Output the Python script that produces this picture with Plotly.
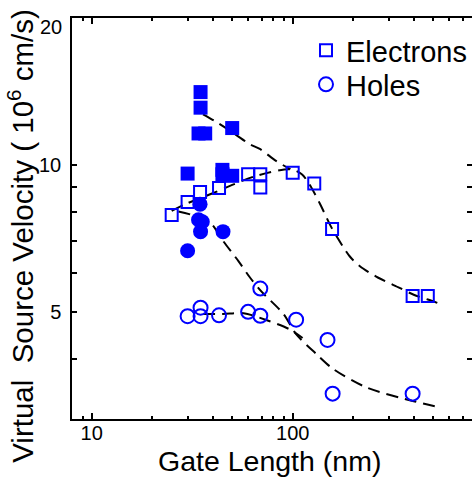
import plotly.graph_objects as go

# ---- data ----
elec_open_x = [25, 30, 34.6, 43, 60, 69, 69, 100, 128, 157, 395, 470]
elec_open_y = [7.9, 8.4, 8.8, 8.97, 9.57, 9.57, 8.99, 9.64, 9.16, 7.39, 5.39, 5.39]

elec_fill_x = [34.8, 34.8, 34.0, 36.7, 50, 30, 44.7, 44.7, 50]
elec_fill_y = [14.1, 13.1, 11.6, 11.6, 11.9, 9.6, 9.77, 9.57, 9.5]

hole_open_x = [30, 34.8, 34.8, 43, 60, 69, 69, 104, 149, 158, 395]
hole_open_y = [4.9, 5.1, 4.9, 4.92, 5.0, 5.58, 4.91, 4.82, 4.38, 3.40, 3.40]

hole_fill_x = [34.6, 34.0, 35.5, 34.8, 45, 30]
hole_fill_y = [8.31, 7.72, 7.65, 7.3, 7.3, 6.67]

# dashed guide curves
fit_e_short_x = [35.8, 41, 51.7, 61.3, 69, 82.6, 97.4]
fit_e_short_y = [12.7, 12.3, 11.56, 11.02, 10.77, 10.19, 9.8]

fit_e_x = [25, 30, 40, 50, 66, 97, 111, 121, 137, 156, 192, 216, 265, 340, 400, 470, 557]
fit_e_y = [8.05, 8.35, 8.75, 9.1, 9.5, 9.8, 9.57, 9.13, 8.31, 7.44, 6.5, 6.2, 5.88, 5.6, 5.42, 5.3, 5.17]

fit_h_short_x = [27, 33, 39.5, 45, 53.6, 61.3, 70, 90, 104, 131, 159, 233, 400, 550]
fit_h_short_y = [8.03, 7.85, 7.56, 6.99, 6.36, 5.88, 5.5, 4.95, 4.5, 4.1, 3.82, 3.5, 3.28, 3.18]

fit_h_x = [35.8, 45, 57, 75, 97, 112]
fit_h_y = [4.95, 4.95, 4.97, 4.8, 4.6, 4.42]

x_major = [10, 100]
x_major_text = ["10", "100"]
x_minor = [9, 20, 30, 40, 50, 60, 70, 80, 90, 200, 300, 400, 500, 600, 700]

y_ticks = [4, 5, 6, 7, 8, 9, 10, 20]
y_ticktext = ["", "5", "", "", "", "", "10", ""]
y_top_label = "20"

BLUE = "#0000ff"
FONT = "Liberation Sans, Arial, sans-serif"

fig = go.Figure()

dash = "12px,7px"
for fx, fy in [(fit_e_short_x, fit_e_short_y), (fit_e_x, fit_e_y),
               (fit_h_short_x, fit_h_short_y), (fit_h_x, fit_h_y)]:
    fig.add_trace(go.Scatter(x=fx, y=fy, mode="lines", showlegend=False,
                             line=dict(color="black", width=2, dash=dash,
                                       shape="spline", smoothing=0.8),
                             hoverinfo="skip"))

fig.add_trace(go.Scatter(x=elec_fill_x, y=elec_fill_y, mode="markers", showlegend=False,
                         marker=dict(symbol="square", size=14, color=BLUE)))
fig.add_trace(go.Scatter(x=hole_fill_x, y=hole_fill_y, mode="markers", showlegend=False,
                         marker=dict(symbol="circle", size=15, color=BLUE)))
fig.add_trace(go.Scatter(x=elec_open_x, y=elec_open_y, mode="markers", name="Electrons",
                         legend="legend",
                         marker=dict(symbol="square-open", size=12, color=BLUE,
                                     line=dict(width=2, color=BLUE))))
fig.add_trace(go.Scatter(x=hole_open_x, y=hole_open_y, mode="markers", name="Holes",
                         legend="legend2",
                         marker=dict(symbol="circle-open", size=14, color=BLUE,
                                     line=dict(width=2, color=BLUE))))

# invisible trace to host the right-hand tick axis
fig.add_trace(go.Scatter(x=[10], y=[5], yaxis="y2", mode="markers",
                         marker=dict(opacity=0), showlegend=False, hoverinfo="skip"))

xr = [0.902, 2.892]
yr = [0.4795, 1.301]

leg_common = dict(xanchor="left", yanchor="top", font=dict(size=29, family=FONT),
                  bgcolor="rgba(0,0,0,0)", itemwidth=30)

fig.update_layout(
    width=472, height=483,
    margin=dict(l=72, r=0, t=18, b=64),
    paper_bgcolor="white", plot_bgcolor="white",
    font=dict(family=FONT, color="black", size=20),
    xaxis=dict(type="log", range=xr, showgrid=False, zeroline=False,
               showline=True, linecolor="black", linewidth=1.5, mirror="ticks",
               ticks="inside", ticklen=6, tickwidth=1.5, tickcolor="black",
               tickvals=x_major, ticktext=x_major_text, ticklabelstandoff=-5,
               tickfont=dict(size=20, family=FONT),
               minor=dict(tickvals=x_minor, ticks="inside", ticklen=3.5,
                          tickwidth=1.5, tickcolor="black", showgrid=False)),
    yaxis=dict(type="log", range=yr, showgrid=False, zeroline=False,
               showline=True, linecolor="black", linewidth=1.5, mirror=False,
               ticks="inside", ticklen=5, tickwidth=1.5, tickcolor="black",
               tickvals=y_ticks, ticktext=y_ticktext, ticklabelstandoff=5,
               tickfont=dict(size=20, family=FONT)),
    yaxis2=dict(type="log", range=yr, overlaying="y", side="right",
                showgrid=False, zeroline=False, showline=False,
                ticks="inside", ticklen=5, tickwidth=1.5, tickcolor="black",
                tickvals=y_ticks, showticklabels=False),
    legend=dict(x=0.585, y=0.9825, **leg_common),
    legend2=dict(x=0.585, y=0.8978, **leg_common),
    showlegend=True,
    annotations=[
        dict(text="Gate Length (nm)", xref="paper", yref="paper",
             x=0.4925, y=-0.1047, xanchor="center", yanchor="middle",
             showarrow=False, font=dict(size=28.5, family=FONT)),
        dict(text="Virtual\u00a0 Source Velocity ( 10<sup>6</sup> cm/s)",
             xref="paper", yref="paper", x=-0.128, y=0.4564,
             xanchor="center", yanchor="middle", textangle=-90,
             showarrow=False, font=dict(size=29.5, family=FONT)),
        dict(text=y_top_label, xref="paper", yref="y", x=-0.02, y=1.283,
             xanchor="right", yanchor="middle", showarrow=False,
             font=dict(size=20, family=FONT)),
    ],
)

fig.write_html("out.html")
